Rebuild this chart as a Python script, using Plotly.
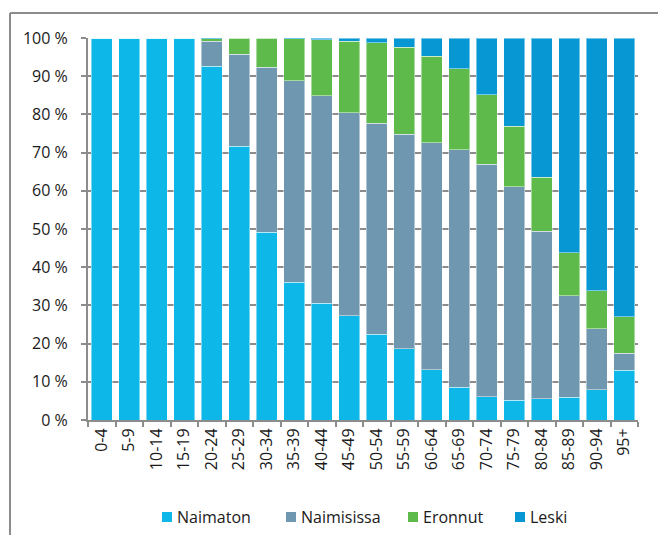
import plotly.graph_objects as go

categories = ["0-4", "5-9", "10-14", "15-19", "20-24", "25-29", "30-34", "35-39",
              "40-44", "45-49", "50-54", "55-59", "60-64", "65-69", "70-74",
              "75-79", "80-84", "85-89", "90-94", "95+"]

naimaton = [100, 100, 100, 99.9, 92.6, 71.7, 49.1, 36.1, 30.6, 27.3, 22.5, 18.6,
            13.2, 8.6, 6.1, 5.2, 5.6, 6.0, 7.9, 13.0]
naimisissa = [0, 0, 0, 0.1, 6.6, 24.0, 43.3, 52.7, 54.3, 53.1, 55.2, 56.2,
              59.4, 62.2, 60.9, 55.8, 43.8, 26.5, 16.0, 4.5]
eronnut = [0, 0, 0, 0, 0.6, 4.2, 7.5, 11.0, 14.7, 18.8, 21.0, 22.8,
           22.6, 21.2, 18.2, 15.9, 14.2, 11.3, 10.0, 9.5]
leski = [0, 0, 0, 0, 0.2, 0.1, 0.1, 0.2, 0.4, 0.8, 1.3, 2.4,
         4.8, 8.0, 14.8, 23.1, 36.4, 56.2, 66.1, 73.0]

series_names = ["Naimaton", "Naimisissa", "Eronnut", "Leski"]
series_values = [naimaton, naimisissa, eronnut, leski]
series_colors = ["#0DB8E8", "#6F97B0", "#5EBA4B", "#0798D4"]

FONT = "Open Sans"
TXT = "#1a1a1a"
GRID = "#8c8c8c"

fig = go.Figure()
for name, vals, color in zip(series_names, series_values, series_colors):
    fig.add_trace(go.Bar(
        name=name, x=categories, y=vals,
        marker=dict(color=color, line=dict(color="rgba(255,255,255,0.45)", width=1)),
    ))

W, H = 658, 535
ml, mr, mt, mb = 88, 20, 38, 115
pw = W - ml - mr
ph = H - mt - mb

def px_x(x):
    return (x - ml) / pw

def px_y(y):
    return (H - mb - y) / ph

shapes = [
    dict(type="line", xref="paper", yref="paper", x0=px_x(10), x1=px_x(700),
         y0=px_y(13), y1=px_y(13), line=dict(color=GRID, width=2)),
    dict(type="line", xref="paper", yref="paper", x0=px_x(10), x1=px_x(10),
         y0=px_y(13), y1=px_y(600), line=dict(color=GRID, width=2)),
]
annotations = []
swatch_x = [162, 286, 408, 515]
for sx, name, color in zip(swatch_x, series_names, series_colors):
    shapes.append(dict(type="rect", xref="paper", yref="paper",
                       x0=px_x(sx), x1=px_x(sx + 10), y0=px_y(522), y1=px_y(512),
                       fillcolor=color, line=dict(width=0)))
    annotations.append(dict(xref="paper", yref="paper", x=px_x(sx + 13), y=px_y(517),
                            xanchor="left", yanchor="middle", showarrow=False,
                            text=name, font=dict(family=FONT, size=16, color=TXT)))

fig.update_layout(
    width=W, height=H,
    barmode="stack", bargap=0.24,
    margin=dict(l=ml, r=mr, t=mt, b=mb, pad=0),
    plot_bgcolor="white", paper_bgcolor="white",
    font=dict(family=FONT, size=16, color=TXT),
    showlegend=False,
    xaxis=dict(type="category", showline=True, linecolor=GRID, linewidth=2,
               ticks="outside", tickson="boundaries", ticklen=5, tickcolor=GRID,
               tickwidth=1.5, tickangle=-90, showgrid=False, automargin=False,
               tickfont=dict(size=16, family=FONT, color=TXT)),
    yaxis=dict(range=[0, 100], dtick=10, ticksuffix=" %", showline=True,
               linecolor=GRID, linewidth=2, ticks="outside", ticklen=5,
               tickcolor=GRID, tickwidth=1.5, showgrid=True, gridcolor=GRID,
               gridwidth=1.5, zeroline=False, automargin=False,
               tickfont=dict(size=16, family=FONT, color=TXT),
               ticklabelstandoff=10),
    shapes=shapes,
    annotations=annotations,
)

fig.write_html("out.html", config={"displayModeBar": False},
               post_script="document.body.style.margin='0';document.body.style.overflow='hidden';")
